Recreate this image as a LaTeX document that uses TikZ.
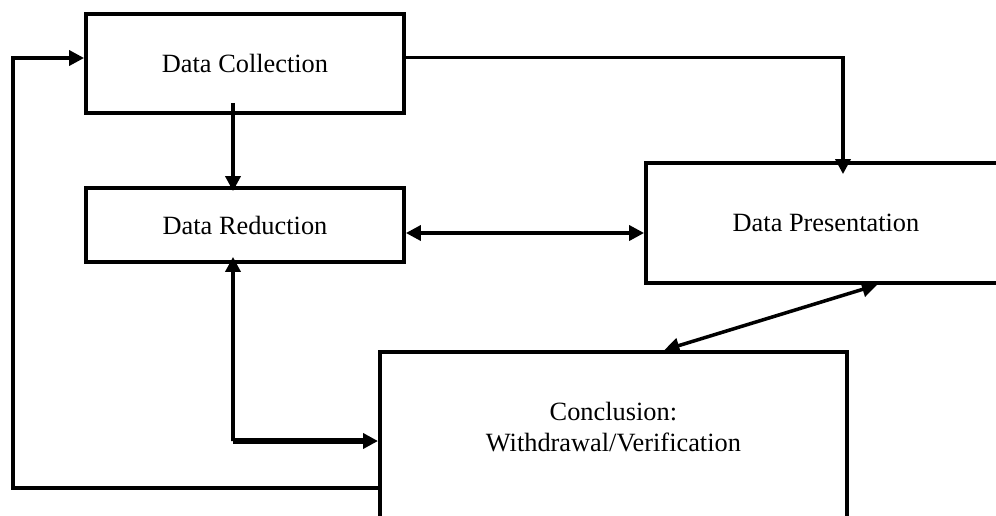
\documentclass[tikz,border=0pt]{standalone}
\usepackage{fontspec}
\setmainfont{Liberation Serif}
\usetikzlibrary{arrows.meta, positioning}

\tikzset{
    txt/.style={font=\fontsize{15}{17.6}\selectfont, align=center},
    box/.style={draw, rectangle, line width=2.2pt, txt},
    arr/.style={->, line width=2pt},
}

\begin{document}
\begin{tikzpicture}[x=0.02cm, y=-0.02cm, >={Triangle[length=0.3cm, width=0.3cm]}]
    \useasboundingbox (0,0) rectangle (996,515);
    \clip (0,0) rectangle (996,515);

    \node[box, minimum width=6.36cm, minimum height=1.98cm] (dc) at (245,63.5) {Data Collection};
    \node[box, minimum width=6.36cm, minimum height=1.48cm] (dr) at (245,225) {Data Reduction};
    \node[box, minimum width=7.2cm, minimum height=2.4cm] (dp) at (826,223) {Data Presentation};
    \node[box, minimum width=9.34cm, minimum height=3.6cm, anchor=north west,
          label={[txt, yshift=0.3cm]center:Conclusion:\\Withdrawal/Verification}] (conc) at (378,350) {};

    \coordinate (loop) at (13,488);
    \coordinate (corner) at (233,441);

    \draw[arr] (conc.west |- loop) -- (loop) |- ([yshift=0.11cm]dc.west);
    \draw[arr] ([yshift=0.12cm]dc.east) -| ([xshift=0.34cm, yshift=-0.26cm]dp.north);
    \draw[arr] ([xshift=-0.24cm, yshift=0.24cm]dc.south) -- ([xshift=-0.24cm, yshift=-0.1cm]dr.north);
    \draw[arr, <->] ([yshift=-0.16cm]dr.east) -- ([yshift=-0.16cm]dr.east -| dp.west);
    \draw[arr] (corner) -- ([xshift=-0.24cm, yshift=0.14cm]dr.south);
    \draw[arr, line width=3pt] (corner) -- (corner -| conc.west);
    \draw[arr, <->] ([xshift=1.02cm]dp.south) -- ([xshift=1.02cm]conc.north);
\end{tikzpicture}
\end{document}
